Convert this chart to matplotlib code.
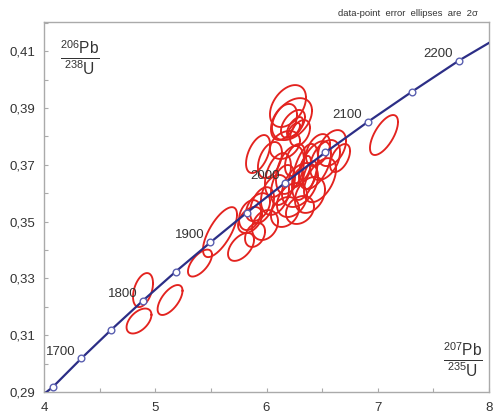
import numpy as np
import matplotlib
matplotlib.use("Agg")
import matplotlib.pyplot as plt
from matplotlib.ticker import MultipleLocator, FuncFormatter

plt.rcParams['font.family'] = ['Liberation Sans', 'DejaVu Sans']
plt.rcParams['mathtext.fontset'] = 'custom'
plt.rcParams['mathtext.rm'] = 'Liberation Sans'
plt.rcParams['mathtext.bf'] = 'Liberation Sans:bold'

# Concordia age markers (Ma) and their ratio coordinates
ages = [1650, 1700, 1750, 1800, 1850, 1900, 1950, 2000, 2050, 2100, 2150, 2200]
conc_x = [4.078, 4.335, 4.604, 4.887, 5.184, 5.496, 5.824, 6.168, 6.530, 6.910, 7.309, 7.729]
conc_y = [0.2917, 0.3018, 0.3119, 0.3221, 0.3324, 0.3427, 0.3532, 0.3637, 0.3744, 0.3851, 0.3958, 0.4067]
labelled_ages = [1700, 1800, 1900, 2000, 2100, 2200]
# curve extension to the plot edges
curve_x = [3.95] + conc_x + [8.05]
curve_y = [0.2878] + conc_y + [0.4141]

# Data-point error ellipses (2 sigma): 207Pb/235U, 206Pb/238U, errors, correlation
pb7_u5 = [4.890, 4.854, 5.133, 5.402, 5.582, 5.771, 5.852, 5.924, 7.056,
          6.193, 6.229, 6.238, 6.256, 6.247, 6.157, 6.301, 5.924, 6.166,
          6.103, 6.211, 6.346, 6.436, 6.526, 6.589, 6.301, 6.481, 6.229, 6.076,
          6.391, 5.960, 5.852, 6.166, 5.987, 6.346, 6.283, 6.391, 6.256, 6.661,
          6.148, 6.463, 6.031, 5.897, 6.301]
pb6_u8 = [0.3259, 0.3150, 0.3224, 0.3354, 0.3463, 0.3411, 0.3506, 0.3551, 0.3805,
          0.3907, 0.3861, 0.3844, 0.3833, 0.3823, 0.3851, 0.3812, 0.3738, 0.3770,
          0.3664, 0.3682, 0.3675, 0.3699, 0.3717, 0.3759, 0.3629, 0.3646, 0.3576, 0.3594,
          0.3594, 0.3558, 0.3523, 0.3534, 0.3488, 0.3689, 0.3654, 0.3664, 0.3717, 0.3724,
          0.3629, 0.3752, 0.3717, 0.3453, 0.3541]
err_x = [0.090, 0.112, 0.112, 0.108, 0.153, 0.117, 0.108, 0.108, 0.126,
         0.162, 0.180, 0.108, 0.072, 0.054, 0.117, 0.090, 0.108, 0.135,
         0.117, 0.126, 0.117, 0.144, 0.135, 0.126, 0.162, 0.144, 0.135, 0.126,
         0.135, 0.108, 0.099, 0.126, 0.117, 0.054, 0.045, 0.063, 0.090, 0.090,
         0.108, 0.108, 0.108, 0.090, 0.126]
err_y = [0.00599, 0.00440, 0.00528, 0.00475, 0.00880, 0.00493, 0.00458, 0.00493, 0.00704,
         0.00739, 0.00739, 0.00493, 0.00352, 0.00246, 0.00634, 0.00458, 0.00669, 0.00493,
         0.00775, 0.00845, 0.00986, 0.00845, 0.00704, 0.00634, 0.00775, 0.00775, 0.00599, 0.00704,
         0.00634, 0.00634, 0.00528, 0.00528, 0.00528, 0.00423, 0.00317, 0.00493, 0.00563, 0.00493,
         0.00704, 0.00563, 0.00634, 0.00423, 0.00493]
rho = [0.4, 0.5, 0.62, 0.62, 0.7, 0.5, 0.4, 0.4, 0.65,
       0.4, 0.4, 0.5, 0.6, 0.6, 0.4, 0.4, 0.5, 0.3,
       0.4, 0.4, 0.5, 0.5, 0.4, 0.4, 0.4, 0.5, 0.3, 0.3,
       0.3, 0.4, 0.3, 0.25, 0.25, 0.5, 0.5, 0.5, 0.4, 0.5,
       0.4, 0.4, 0.4, 0.3, 0.25]

fig = plt.figure(figsize=(4.93, 4.16), dpi=100)
ax = fig.add_axes([44/493, 24/416, 445/493, 370/416])

t = np.linspace(0, 2*np.pi, 200)
for cx, cy, sx, sy, r in zip(pb7_u5, pb6_u8, err_x, err_y, rho):
    ex = cx + sx*np.cos(t)
    ey = cy + sy*(r*np.cos(t) + np.sqrt(1 - r*r)*np.sin(t))
    ax.plot(ex, ey, color='#e3231f', lw=1.35, zorder=2)

ax.plot(curve_x, curve_y, color='#2c2e86', lw=1.6, zorder=3)
ax.plot(conc_x, conc_y, 'o', ms=4.8, mfc='white', mec='#5a5fb0', mew=1.0, zorder=4)
for a, x, y in zip(ages, conc_x, conc_y):
    if a in labelled_ages:
        ax.annotate(str(a), (x, y), xytext=(-4, 5), textcoords='offset points',
                    ha='right', va='center', fontsize=9.5, color='#333333', zorder=5)

ax.set_xlim(4, 8)
ax.set_ylim(0.29, 0.4203)
ax.xaxis.set_major_locator(MultipleLocator(1))
ax.xaxis.set_minor_locator(MultipleLocator(0.5))
ax.yaxis.set_minor_locator(MultipleLocator(0.01))
ax.set_yticks([0.29, 0.31, 0.33, 0.35, 0.37, 0.39, 0.41])
ax.yaxis.set_major_formatter(FuncFormatter(lambda v, p: f"{v:.2f}".replace('.', ',')))
ax.xaxis.set_major_formatter(FuncFormatter(lambda v, p: f"{v:.0f}"))
ax.tick_params(which='both', direction='in', colors='#aaaaaa', labelcolor='#333333',
               labelsize=9.5, length=3, width=0.8)
ax.tick_params(axis='x', pad=7)
ax.tick_params(axis='y', pad=6)
for s in ax.spines.values():
    s.set_color('#aaaaaa')
    s.set_linewidth(1.0)

ax.text(0.035, 0.955, r'$\frac{^{206}\mathrm{Pb}}{^{238}\mathrm{U}}$', transform=ax.transAxes,
        fontsize=16, color='#333333', ha='left', va='top')
ax.text(0.985, 0.035, r'$\frac{^{207}\mathrm{Pb}}{^{235}\mathrm{U}}$', transform=ax.transAxes,
        fontsize=16, color='#333333', ha='right', va='bottom')

fig.text(478/493, 1 - 14/416, 'data-point  error  ellipses  are  2σ', ha='right', va='center',
         fontsize=6.8, color='#333333')

fig.savefig('out.png', dpi=100)
